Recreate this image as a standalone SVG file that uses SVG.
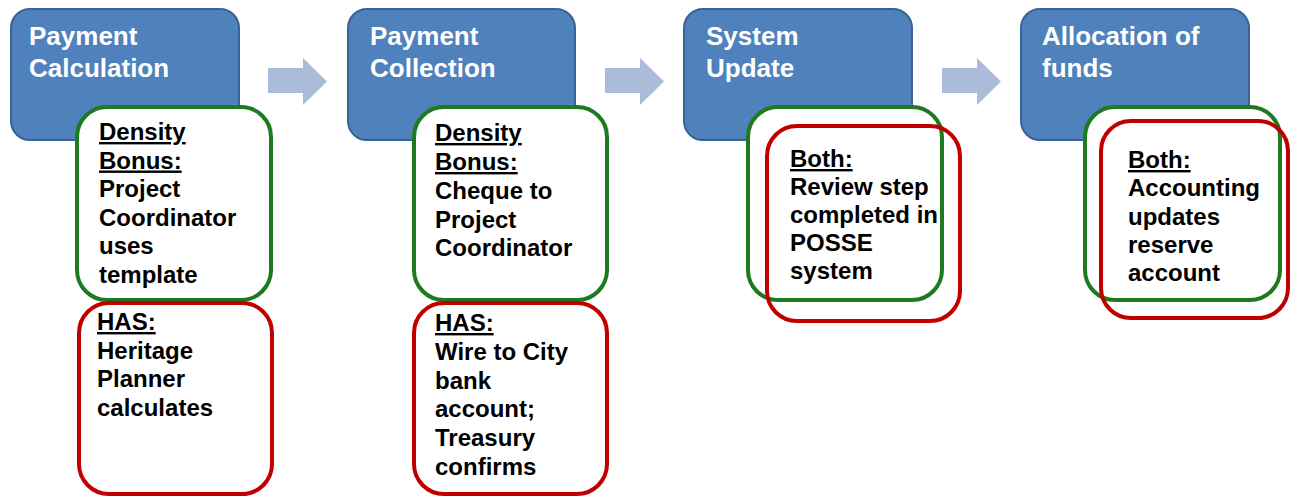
<svg xmlns="http://www.w3.org/2000/svg" width="1292" height="496" viewBox="0 0 1292 496">
  <style>
    .step { fill: #4f81bd; stroke: #3a6294; stroke-width: 2; }
    .title { font-family: "Liberation Sans", Arial, sans-serif; font-weight: bold; font-size: 26px; fill: #ffffff; }
    .note { font-family: "Liberation Sans", Arial, sans-serif; font-weight: bold; font-size: 24px; fill: #000000; }
    .u { text-decoration: underline; }
    .db { fill: #ffffff; stroke: #1e7a1e; stroke-width: 4; }
    .has { fill: #ffffff; stroke: #c00000; stroke-width: 4; }
    .both { fill: none; stroke: #c00000; stroke-width: 4; }
    .flow { fill: #abbcdb; }
  </style>

  <!-- flow arrows between steps -->
  <g id="connectors">
    <polygon class="flow" points="268,68 303,68 303,58 327,81.5 303,105 303,93 268,93"/>
    <polygon class="flow" points="605,68 640,68 640,58 664,81.5 640,105 640,93 605,93"/>
    <polygon class="flow" points="942,68 977,68 977,58 1001,81.5 977,105 977,93 942,93"/>
  </g>

  <!-- Step 1 -->
  <g id="payment-calculation">
    <rect class="step" x="11" y="9" width="228" height="131" rx="19"/>
    <text class="title" x="29"><tspan x="29" y="45">Payment</tspan><tspan x="29" y="77">Calculation</tspan></text>
    <rect class="db" x="77" y="107" width="194" height="193" rx="30"/>
    <text class="note"><tspan class="u" x="99" y="140">Density</tspan><tspan class="u" x="99" y="168.5">Bonus:</tspan><tspan x="99" y="197">Project</tspan><tspan x="99" y="225.5">Coordinator</tspan><tspan x="99" y="254">uses</tspan><tspan x="99" y="282.5">template</tspan></text>
    <rect class="has" x="79" y="303" width="193" height="191" rx="30"/>
    <text class="note"><tspan class="u" x="97" y="330">HAS:</tspan><tspan x="97" y="358.5">Heritage</tspan><tspan x="97" y="387">Planner</tspan><tspan x="97" y="415.5">calculates</tspan></text>
  </g>

  <!-- Step 2 -->
  <g id="payment-collection">
    <rect class="step" x="348" y="9" width="227" height="131" rx="19"/>
    <text class="title"><tspan x="370" y="45">Payment</tspan><tspan x="370" y="77">Collection</tspan></text>
    <rect class="db" x="414" y="107" width="193" height="193" rx="30"/>
    <text class="note"><tspan class="u" x="435" y="141">Density</tspan><tspan class="u" x="435" y="170">Bonus:</tspan><tspan x="435" y="199">Cheque to</tspan><tspan x="435" y="227.5">Project</tspan><tspan x="435" y="256">Coordinator</tspan></text>
    <rect class="has" x="414" y="303" width="193" height="191" rx="30"/>
    <text class="note"><tspan class="u" x="435" y="331">HAS:</tspan><tspan x="435" y="360">Wire to City</tspan><tspan x="435" y="389">bank</tspan><tspan x="435" y="417">account;</tspan><tspan x="435" y="446">Treasury</tspan><tspan x="435" y="475">confirms</tspan></text>
  </g>

  <!-- Step 3 -->
  <g id="system-update">
    <rect class="step" x="684" y="9" width="228" height="131" rx="19"/>
    <text class="title"><tspan x="706" y="45">System</tspan><tspan x="706" y="77">Update</tspan></text>
    <rect class="db" x="748" y="107" width="194" height="193" rx="30"/>
    <rect class="both" x="767" y="126" width="193" height="195" rx="30"/>
    <text class="note"><tspan class="u" x="790" y="167">Both:</tspan><tspan x="790" y="195">Review step</tspan><tspan x="790" y="223">completed in</tspan><tspan x="790" y="251">POSSE</tspan><tspan x="790" y="279">system</tspan></text>
  </g>

  <!-- Step 4 -->
  <g id="allocation-of-funds">
    <rect class="step" x="1021" y="9" width="228" height="131" rx="19"/>
    <text class="title"><tspan x="1042" y="45">Allocation of</tspan><tspan x="1042" y="77">funds</tspan></text>
    <rect class="db" x="1085" y="107" width="195" height="193" rx="30"/>
    <rect class="both" x="1101" y="121" width="187" height="197" rx="30"/>
    <text class="note"><tspan class="u" x="1128" y="168">Both:</tspan><tspan x="1128" y="196">Accounting</tspan><tspan x="1128" y="224.5">updates</tspan><tspan x="1128" y="253">reserve</tspan><tspan x="1128" y="281">account</tspan></text>
  </g>
</svg>
